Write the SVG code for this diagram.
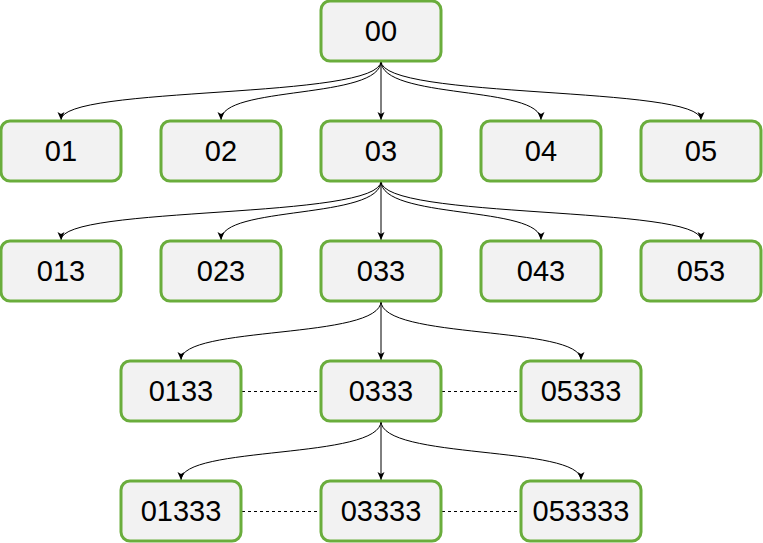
<svg xmlns="http://www.w3.org/2000/svg" width="763" height="543" viewBox="0 0 763 543">
<style>
.n rect{fill:#f2f2f2;stroke:#6aad3c;stroke-width:3}
.n text{font-family:"Liberation Sans",Arial,sans-serif;font-size:29px;fill:#000;text-anchor:middle}
.e path{fill:none;stroke:#000;stroke-width:1}
.d line{stroke:#000;stroke-width:1;stroke-dasharray:3 3}
</style>
<defs>
<marker id="a" markerWidth="10" markerHeight="10" refX="8" refY="5" orient="auto" markerUnits="userSpaceOnUse">
<path d="M0,1.5 L8,5 L0,8.5 L2,5 Z" fill="#000"/>
</marker>
</defs>
<rect width="763" height="543" fill="#fff"/>
<g class="e" id="edges">
<path marker-end="url(#a)" d="M381,61 C381,100 61,85 61,120"/>
<path marker-end="url(#a)" d="M381,61 C381,100 221,85 221,120"/>
<path marker-end="url(#a)" d="M381,61 L381,120"/>
<path marker-end="url(#a)" d="M381,61 C381,100 541,85 541,120"/>
<path marker-end="url(#a)" d="M381,61 C381,100 701,85 701,120"/>
<path marker-end="url(#a)" d="M381,181 C381,220 61,205 61,240"/>
<path marker-end="url(#a)" d="M381,181 C381,220 221,205 221,240"/>
<path marker-end="url(#a)" d="M381,181 L381,240"/>
<path marker-end="url(#a)" d="M381,181 C381,220 541,205 541,240"/>
<path marker-end="url(#a)" d="M381,181 C381,220 701,205 701,240"/>
<path marker-end="url(#a)" d="M381,301 C381,340 181,325 181,360"/>
<path marker-end="url(#a)" d="M381,301 L381,360"/>
<path marker-end="url(#a)" d="M381,301 C381,340 581,325 581,360"/>
<path marker-end="url(#a)" d="M381,421 C381,460 181,445 181,480"/>
<path marker-end="url(#a)" d="M381,421 L381,480"/>
<path marker-end="url(#a)" d="M381,421 C381,460 581,445 581,480"/>
</g>
<g class="d" id="links">
<line x1="242" y1="391.5" x2="320" y2="391.5"/>
<line x1="442" y1="391.5" x2="520" y2="391.5"/>
<line x1="242" y1="511.5" x2="320" y2="511.5"/>
<line x1="442" y1="511.5" x2="520" y2="511.5"/>
</g>
<g class="n" id="n00"><rect x="321" y="1" width="120" height="60" rx="9"/><text x="381" y="41">00</text></g>
<g class="n" id="n01"><rect x="1" y="121" width="120" height="60" rx="9"/><text x="61" y="161">01</text></g>
<g class="n" id="n02"><rect x="161" y="121" width="120" height="60" rx="9"/><text x="221" y="161">02</text></g>
<g class="n" id="n03"><rect x="321" y="121" width="120" height="60" rx="9"/><text x="381" y="161">03</text></g>
<g class="n" id="n04"><rect x="481" y="121" width="120" height="60" rx="9"/><text x="541" y="161">04</text></g>
<g class="n" id="n05"><rect x="641" y="121" width="120" height="60" rx="9"/><text x="701" y="161">05</text></g>
<g class="n" id="n013"><rect x="1" y="241" width="120" height="60" rx="9"/><text x="61" y="281">013</text></g>
<g class="n" id="n023"><rect x="161" y="241" width="120" height="60" rx="9"/><text x="221" y="281">023</text></g>
<g class="n" id="n033"><rect x="321" y="241" width="120" height="60" rx="9"/><text x="381" y="281">033</text></g>
<g class="n" id="n043"><rect x="481" y="241" width="120" height="60" rx="9"/><text x="541" y="281">043</text></g>
<g class="n" id="n053"><rect x="641" y="241" width="120" height="60" rx="9"/><text x="701" y="281">053</text></g>
<g class="n" id="n0133"><rect x="121" y="361" width="120" height="60" rx="9"/><text x="181" y="401">0133</text></g>
<g class="n" id="n0333"><rect x="321" y="361" width="120" height="60" rx="9"/><text x="381" y="401">0333</text></g>
<g class="n" id="n05333"><rect x="521" y="361" width="120" height="60" rx="9"/><text x="581" y="401">05333</text></g>
<g class="n" id="n01333"><rect x="121" y="481" width="120" height="60" rx="9"/><text x="181" y="521">01333</text></g>
<g class="n" id="n03333"><rect x="321" y="481" width="120" height="60" rx="9"/><text x="381" y="521">03333</text></g>
<g class="n" id="n053333"><rect x="521" y="481" width="120" height="60" rx="9"/><text x="581" y="521">053333</text></g>
</svg>
